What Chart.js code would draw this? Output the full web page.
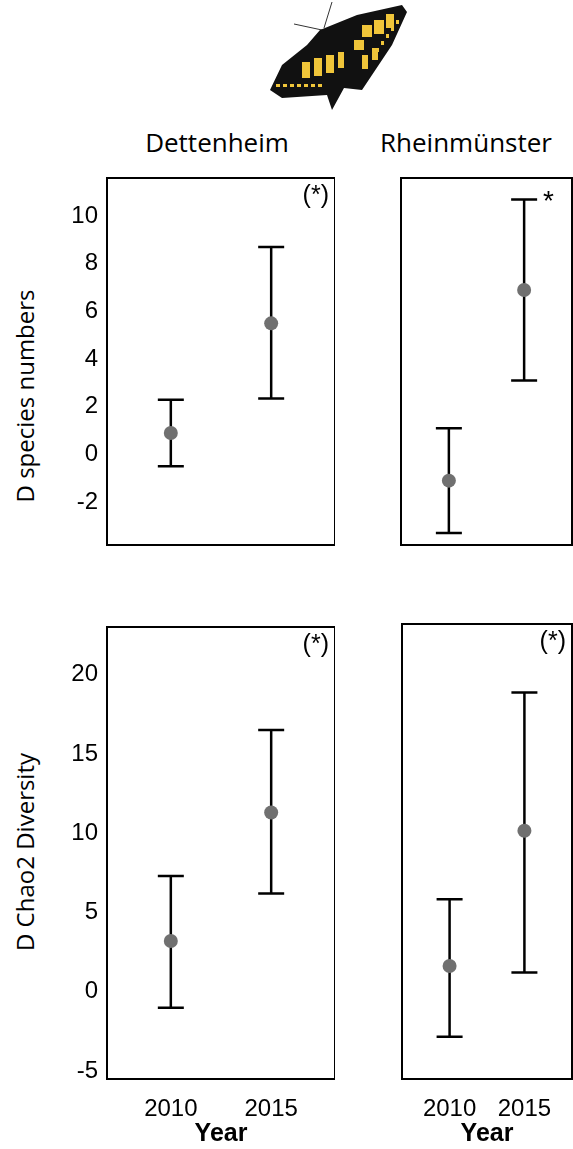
<!DOCTYPE html>
<html><head><meta charset="utf-8">
<script src="https://cdn.jsdelivr.net/npm/chart.js@4"></script>
<style>
body{margin:0;width:573px;height:1149px;position:relative;background:#fff;overflow:hidden;font-family:"Liberation Sans",Arial,sans-serif}
.t{position:absolute;font-family:"Open Sans",sans-serif;font-size:26px;color:#000;white-space:nowrap}
.yl{position:absolute;font-family:"Open Sans",sans-serif;font-size:24px;white-space:nowrap;transform:translate(-50%,-50%) rotate(-90deg)}
</style></head><body>
<canvas id="bf" width="160" height="115" style="position:absolute;left:262px;top:0"></canvas>
<div class="t" style="left:217px;top:142px;transform:translate(-50%,-50%)">Dettenheim</div>
<div class="t" style="left:466px;top:142px;transform:translate(-50%,-50%)">Rheinmünster</div>
<div class="yl" style="left:24px;top:396px">D species numbers</div>
<div class="yl" style="left:24px;top:852px">D Chao2 Diversity</div>
<div style="position:absolute;left:50px;top:170px;width:285px;height:450px"><canvas id="c1"></canvas></div>
<div style="position:absolute;left:343px;top:170px;width:230px;height:450px"><canvas id="c2"></canvas></div>
<div style="position:absolute;left:50px;top:620px;width:285px;height:529px"><canvas id="c3"></canvas></div>
<div style="position:absolute;left:343px;top:616px;width:230px;height:533px"><canvas id="c4"></canvas></div>
<script>
const years = ['2010','2015'];
const speciesTicks = [10,8,6,4,2,0,-2];
const chaoTicks = [20,15,10,5,0,-5];
// Δ species numbers
const dettSpeciesMean = [0.9, 5.5];
const dettSpeciesLow  = [-0.5, 2.35];
const dettSpeciesHigh = [2.3, 8.7];
const rheinSpeciesMean = [-1.1, 6.9];
const rheinSpeciesLow  = [-3.3, 3.1];
const rheinSpeciesHigh = [1.1, 10.7];
// Δ Chao2 diversity
const dettChaoMean = [3.2, 11.3];
const dettChaoLow  = [-1.0, 6.2];
const dettChaoHigh = [7.3, 16.5];
const rheinChaoMean = [1.8, 10.3];
const rheinChaoLow  = [-2.65, 1.4];
const rheinChaoHigh = [6.0, 19.0];

const errPlugin = {
  id:'err',
  afterDatasetsDraw(chart){
    const o = chart.options.plugins.err; if(!o) return;
    const {ctx, chartArea:a} = chart;
    const xs = chart.scales.x, ys = chart.scales.y;
    ctx.save();
    ctx.strokeStyle='#000'; ctx.lineWidth=2.5;
    o.low.forEach((lo,i)=>{
      const x = xs.getPixelForValue(i);
      const y1 = ys.getPixelForValue(lo), y2 = ys.getPixelForValue(o.high[i]);
      ctx.beginPath(); ctx.moveTo(x,y1); ctx.lineTo(x,y2);
      ctx.moveTo(x-13,y1); ctx.lineTo(x+13,y1);
      ctx.moveTo(x-13,y2); ctx.lineTo(x+13,y2); ctx.stroke();
    });
    chart.getDatasetMeta(0).data.forEach(p=>{
      ctx.fillStyle='#707070'; ctx.beginPath(); ctx.arc(p.x,p.y,7,0,Math.PI*2); ctx.fill();
    });
    ctx.lineWidth=2;
    ctx.strokeRect(a.left,a.top,a.right-a.left,a.bottom-a.top);
    ctx.fillStyle='#000'; ctx.font = o.sig==='*' ? '28px "Liberation Sans"' : '25px "Liberation Sans"';
    ctx.textAlign='right'; ctx.textBaseline='top';
    ctx.fillText(o.sig, a.right-(o.sig==='*'?18:6), a.top+(o.sig==='*'?10:6));
    ctx.restore();
  }
};

function make(id, mean, low, high, ymin, ymax, ticks, showY, showX, sig, pad){
  new Chart(document.getElementById(id), {
    type:'scatter',
    data:{datasets:[{data: mean.map((v,i)=>({x:i,y:v})), pointRadius:0, showLine:false, backgroundColor:'#707070'}]},
    options:{
      responsive:true, maintainAspectRatio:false, animation:false,
      layout:{padding:pad},
      plugins:{legend:{display:false}, tooltip:{enabled:false}, err:{low, high, sig}},
      scales:{
        x:{type:'linear', min:-0.636, max:1.636, display:showX,
           grid:{display:false, drawTicks:false}, border:{display:false},
           afterBuildTicks:s=>{ s.ticks=[{value:0},{value:1}]; },
           afterFit:s=>{ s.height = 70; s.paddingLeft=0; s.paddingRight=0; },
           ticks:{color:'#000', font:{size:24, family:'"Liberation Sans"'}, padding:16, callback:v=>years[v] ?? ''},
           title:{display:true, text:'Year', color:'#000', font:{size:25, weight:'bold', family:'"Liberation Sans"'}, padding:{top:4,bottom:0}}},
        y:{min:ymin, max:ymax, display:showY,
           grid:{display:false, drawTicks:false}, border:{display:false},
           afterBuildTicks:s=>{ s.ticks = ticks.map(v=>({value:v})); },
           afterFit:s=>{ s.width = 57; s.paddingTop = 0; s.paddingBottom = 0; },
           ticks:{color:'#000', font:{size:24, family:'"Liberation Sans"'}, padding:9}}
      }
    },
    plugins:[errPlugin]
  });
}
make('c1', dettSpeciesMean, dettSpeciesLow, dettSpeciesHigh, -3.8, 11.6, speciesTicks, true, false, '(*)', {top:8,bottom:5,right:0,left:0});
make('c2', rheinSpeciesMean, rheinSpeciesLow, rheinSpeciesHigh, -3.8, 11.6, speciesTicks, false, false, '*', {top:8,bottom:5,left:1,right:1});
make('c3', dettChaoMean, dettChaoLow, dettChaoHigh, -5.5, 23.0, chaoTicks, true, true, '(*)', {top:7,bottom:0,right:0,left:0});
make('c4', rheinChaoMean, rheinChaoLow, rheinChaoHigh, -5.3, 23.3, chaoTicks, false, true, '(*)', {top:8,bottom:0,left:2,right:1});

// simple swallowtail silhouette
const b = document.getElementById('bf').getContext('2d');
b.strokeStyle='#333'; b.lineWidth=1;
b.beginPath(); b.moveTo(60,30); b.lineTo(32,24); b.moveTo(62,28); b.lineTo(70,2); b.stroke();
b.fillStyle='#111';
b.beginPath(); b.moveTo(58,30); b.lineTo(95,15); b.lineTo(140,5); b.lineTo(145,12); b.lineTo(130,45); b.lineTo(110,75); b.lineTo(100,90); b.lineTo(82,88); b.lineTo(70,110); b.lineTo(65,95); b.lineTo(20,98); b.lineTo(8,90); b.lineTo(20,65); b.lineTo(45,45); b.closePath(); b.fill();
b.fillStyle='#f0c53a';
[[100,25,10,12],[112,20,10,14],[124,14,8,14],[92,40,10,10],[40,62,8,16],[52,58,8,18],[64,55,8,18],[76,52,6,16],[100,55,6,14],[110,48,6,12]].forEach(r=>b.fillRect(r[0],r[1],r[2],r[3]));
for(let i=0;i<7;i++){b.fillRect(14+i*7,84,4,3);}
for(let i=0;i<5;i++){b.fillRect(134-i*5,20+i*7,3,4);}
</script>
</body></html>
